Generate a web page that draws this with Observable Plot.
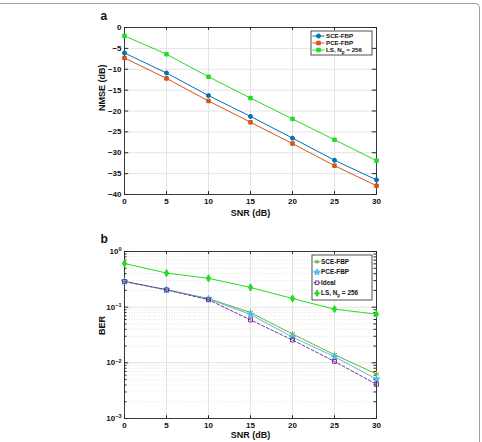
<!DOCTYPE html>
<html><head><meta charset="utf-8">
<script src="https://cdn.jsdelivr.net/npm/d3@7"></script>
<script src="https://cdn.jsdelivr.net/npm/@observablehq/plot@0.6"></script>
<style>
body{margin:0;background:#fff}
#wrap{position:relative;width:482px;height:442px;overflow:hidden;background:#fff}
#border{position:absolute;left:-10px;top:3px;width:490px;height:460px;border-top:1px solid #a0a0a0;border-right:1px solid #a0a0a0;border-top-right-radius:5px;box-sizing:border-box}
.panel{position:absolute;left:0}
</style>
</head><body>
<div id="wrap"><div id="border"></div></div>
<script>
// ---- data ----
const snr = [0, 5, 10, 15, 20, 25, 30];
const snrTicks = [0, 5, 10, 15, 20, 25, 30];
const nmseTicks = [0, -5, -10, -15, -20, -25, -30, -35, -40];
const berTicks = [1, 0.1, 0.01, 0.001];

const nmseNames = ["SCE-FBP", "PCE-FBP", "LS"];
const nmseSCE = [-6.1, -10.9, -16.3, -21.3, -26.5, -31.8, -36.5];
const nmsePCE = [-7.3, -12.2, -17.6, -22.7, -27.8, -33.1, -37.9];
const nmseLS  = [-2.0, -6.4, -11.8, -16.9, -21.9, -26.9, -31.9];

const berNames = ["SCE-FBP", "PCE-FBP", "Ideal", "LS"];
const berSCE   = [0.29, 0.205, 0.143, 0.080, 0.033, 0.0140, 0.0063];
const berPCE   = [0.29, 0.205, 0.141, 0.074, 0.029, 0.0129, 0.0051];
const berIdeal = [0.29, 0.205, 0.136, 0.059, 0.0257, 0.0106, 0.0041];
const berLS    = [0.61, 0.41, 0.33, 0.226, 0.143, 0.092, 0.075];

// ---- styles ----
const FONT = "'Liberation Sans', Arial, Helvetica, sans-serif";
const AX = "#262626";
const GRID = "#e3e3e3";
const stylesA = [
  {color:"#0072BD", symbol:"circle", fill:true},
  {color:"#D95319", symbol:"square", fill:true},
  {color:"#22dd22", symbol:"square", fill:true}
];
const stylesB = [
  {color:"#77AC30", symbol:"asterisk", fill:false, dash:null},
  {color:"#4DBEEE", symbol:"star", fill:true, dash:null},
  {color:"#7E2F8E", symbol:"square", fill:false, dash:"3,2"},
  {color:"#22dd22", symbol:"diamond", fill:true, dash:null}
];

const rows = (names, vals) => names.flatMap((s, i) => snr.map((x, j) => ({x, y: vals[i][j], s, i})));
const dataA = rows(nmseNames, [nmseSCE, nmsePCE, nmseLS]);
const dataB = rows(berNames, [berSCE, berPCE, berIdeal, berLS]);

function seriesMarks(data, styles, r) {
  const m = [];
  styles.forEach((st, i) => {
    const d = data.filter(p => p.i === i);
    m.push(Plot.line(d, {x:"x", y:"y", stroke: st.color, strokeWidth: 1, strokeDasharray: st.dash}));
    m.push(Plot.dot(d, {x:"x", y:"y", symbol: st.symbol, r: st.symbol === "asterisk" ? r + 0.6 : r,
      stroke: st.color, fill: st.fill ? st.color : "none", strokeWidth: 1}));
  });
  return m;
}

// ---- panel a ----
const chartA = Plot.plot({
  width: 482, height: 220,
  marginLeft: 124, marginRight: 106, marginTop: 27, marginBottom: 26,
  style: {background: "none", fontFamily: FONT, fontSize: "8px", fontWeight: "bold", color: "#111"},
  x: {domain: [0, 30]},
  y: {domain: [-40, 0]},
  marks: [
    Plot.gridX(snrTicks, {stroke: GRID, strokeOpacity: 1}),
    Plot.gridY(nmseTicks, {stroke: GRID, strokeOpacity: 1}),
    Plot.ruleX(snrTicks, {y1: -40, y2: -39.3, stroke: AX}),
    Plot.ruleX(snrTicks, {y1: 0, y2: -0.7, stroke: AX}),
    Plot.ruleY(nmseTicks, {x1: 0, x2: 0.5, stroke: AX}),
    Plot.ruleY(nmseTicks, {x1: 30, x2: 29.5, stroke: AX}),
    Plot.frame({stroke: AX, strokeWidth: 0.9}),
    Plot.axisX(snrTicks, {tickSize: 0, tickPadding: 4, label: null, fontWeight: "bold"}),
    Plot.axisY(nmseTicks, {tickSize: 0, tickPadding: 3, label: null, fontWeight: "bold"}),
    ...seriesMarks(dataA, stylesA, 2),
    Plot.text(["SNR (dB)"], {frameAnchor: "bottom", dy: 21, fontSize: 9, fontWeight: "bold"}),
    Plot.text(["NMSE (dB)"], {frameAnchor: "left", dx: -22, rotate: -90, fontSize: 9, fontWeight: "bold"}),
    Plot.text(["a"], {frameAnchor: "top-left", dx: -24, dy: -16, fontSize: 12, fontWeight: "bold"})
  ]
});

// ---- panel b ----
const minor = [];
[0.001, 0.01, 0.1].forEach(b => { for (let k = 2; k <= 9; k++) minor.push(b * k); });
const chartB = Plot.plot({
  width: 482, height: 222,
  marginLeft: 124, marginRight: 106, marginTop: 31, marginBottom: 24,
  style: {background: "none", fontFamily: FONT, fontSize: "8px", fontWeight: "bold", color: "#111"},
  x: {domain: [0, 30]},
  y: {type: "log", domain: [0.001, 1]},
  marks: [
    Plot.ruleY(minor, {stroke: "#e6e6e6", strokeDasharray: "1,1.5"}),
    Plot.gridX(snrTicks, {stroke: GRID, strokeOpacity: 1}),
    Plot.gridY(berTicks, {stroke: GRID, strokeOpacity: 1}),
    Plot.ruleX(snrTicks, {y1: 0.001, y2: 0.00112, stroke: AX}),
    Plot.ruleX(snrTicks, {y1: 1, y2: 0.89, stroke: AX}),
    Plot.ruleY(berTicks, {x1: 0, x2: 0.5, stroke: AX}),
    Plot.ruleY(berTicks, {x1: 30, x2: 29.5, stroke: AX}),
    Plot.ruleY(minor, {x1: 0, x2: 0.3, stroke: AX}),
    Plot.ruleY(minor, {x1: 30, x2: 29.7, stroke: AX}),
    Plot.frame({stroke: AX, strokeWidth: 0.9}),
    Plot.axisX(snrTicks, {tickSize: 0, tickPadding: 4, label: null, fontWeight: "bold"}),
    Plot.axisY(berTicks, {tickSize: 0, tickPadding: 3, label: null, tickFormat: d => String(Math.round(Math.log10(d))), fontWeight: "bold"}),
    ...seriesMarks(dataB, stylesB, 2.2),
    Plot.text(["SNR (dB)"], {frameAnchor: "bottom", dy: 19, fontSize: 9, fontWeight: "bold"}),
    Plot.text(["BER"], {frameAnchor: "left", dx: -22, rotate: -90, fontSize: 9, fontWeight: "bold"}),
    Plot.text(["b"], {frameAnchor: "top-left", dx: -24, dy: -17, fontSize: 12, fontWeight: "bold"})
  ]
});

// rewrite log tick labels as 10 with superscript exponent
d3.select(chartB).selectAll("g[aria-label='y-axis tick label'] text").each(function() {
  const t = d3.select(this);
  const e = t.text();
  t.text(null);
  t.append("tspan").text("10");
  t.append("tspan").attr("font-size", 5.5).attr("dy", "-0.5em").text(e.replace("-", "\u2212"));
});

const symMap = {circle: d3.symbolCircle, square: d3.symbolSquare, asterisk: d3.symbolAsterisk, star: d3.symbolStar, diamond: d3.symbolDiamond};

function legend(svg, box, lineX, textX, fs, names, styles, labelsFn) {
  const [x0, y0, w, h] = box;
  const rowH = (h - 3) / names.length;
  const g = d3.select(svg).append("g").attr("font-family", FONT).attr("font-size", fs)
    .attr("font-weight", "bold").attr("text-anchor", "start");
  g.append("rect").attr("x", x0).attr("y", y0).attr("width", w).attr("height", h)
    .attr("fill", "#fff").attr("stroke", AX).attr("stroke-width", 0.8);
  names.forEach((n, i) => {
    const st = styles[i];
    const cy = y0 + 1.5 + rowH * (i + 0.5);
    g.append("line").attr("x1", x0 + lineX[0]).attr("x2", x0 + lineX[1]).attr("y1", cy).attr("y2", cy)
      .attr("stroke", st.color).attr("stroke-width", 1).attr("stroke-dasharray", st.dash || null);
    g.append("path").attr("d", d3.symbol(symMap[st.symbol], 13)())
      .attr("transform", `translate(${x0 + (lineX[0] + lineX[1]) / 2},${cy})`)
      .attr("fill", st.fill ? st.color : "none").attr("stroke", st.color).attr("stroke-width", 1);
    const t = g.append("text").attr("x", x0 + textX).attr("y", cy).attr("dy", "0.35em").attr("fill", "#111");
    labelsFn(t, n);
  });
}
const lab = (t, n) => {
  if (n === "LS") {
    t.append("tspan").text("LS, N");
    t.append("tspan").attr("font-size", 4.5).attr("dy", 2).text("p");
    t.append("tspan").attr("dy", -2).text(" = 256");
  } else t.text(n);
};
legend(chartA, [311, 31, 61, 24], [1.5, 13.5], 15, 6.2, nmseNames, stylesA, lab);
legend(chartB, [312, 35, 60, 45], [1.5, 8.5], 9, 6.4, berNames, stylesB, lab);

chartA.classList.add("panel"); chartA.style.top = "0px";
chartB.classList.add("panel"); chartB.style.top = "220px";
document.getElementById("wrap").append(chartA, chartB);
</script>
</body></html>
